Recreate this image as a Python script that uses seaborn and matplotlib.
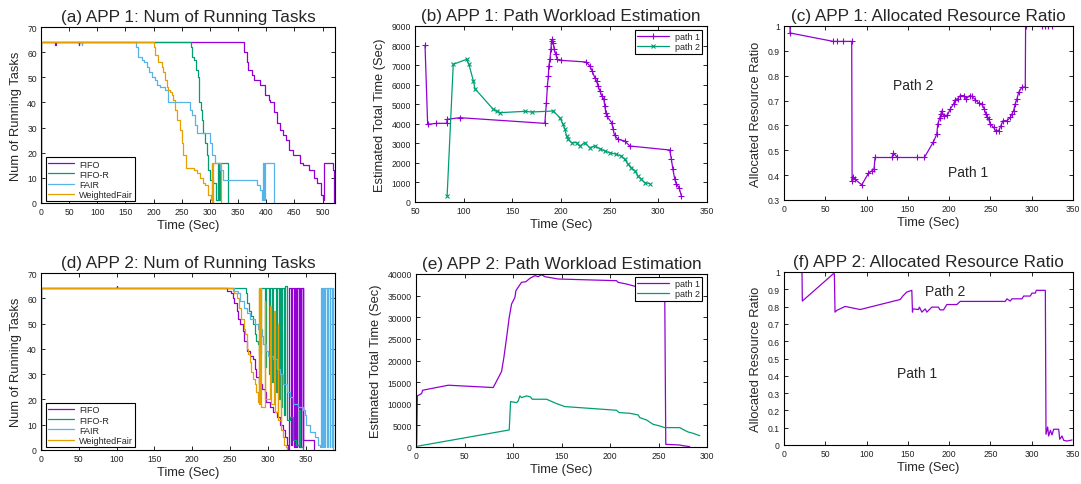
import numpy as np
import matplotlib
matplotlib.use("Agg")
import matplotlib.pyplot as plt
import seaborn as sns
from matplotlib.ticker import FormatStrFormatter, MultipleLocator

# ---------------- data ----------------
# (a) APP 1: running tasks
a_fifo_t = [0, 0.5, 25, 26, 67, 68, 361, 365, 368, 375, 378, 389, 398, 404, 406, 413, 419, 425, 429, 435,
            441, 448, 460, 466, 475, 484, 490, 497, 500, 502, 518, 521]
a_fifo_y = [0, 64, 63, 64, 63, 64, 60, 56, 53, 51, 49, 47, 43, 41, 40, 36, 32, 29, 27, 25,
            21, 19, 16, 15, 13, 10, 8, 3, 1, 16, 13, 0]
a_fifor_t = [0, 0.5, 266, 268, 272, 275, 278, 280, 281, 284, 285, 288, 291, 294, 297, 300, 306, 311, 315,
             316.5, 318, 332]
a_fifor_y = [0, 64, 62, 58, 57, 53, 50, 44, 40, 37, 33, 28, 24, 19, 13, 9, 8, 1, 16, 1, 16, 0]
a_fair_t = [0, 0.5, 72, 73, 169, 173, 179, 182, 188, 192, 197, 203, 206, 211, 220, 226, 265, 268, 274, 277,
            300, 303, 309, 318, 324, 383, 389, 393, 395, 396, 397, 413]
a_fair_y = [0, 64, 63, 64, 62, 58, 57, 56, 54, 52, 50, 49, 47, 46, 45, 40, 37, 35, 31, 28,
            24, 19, 16, 13, 9, 7, 5, 1, 16, 1, 16, 0]
a_wf_t = [0, 0.5, 201, 203, 208, 214, 217, 220, 223, 226, 229, 232, 235, 238, 241, 246, 250, 253, 258, 271,
          277, 283, 288, 291, 297, 301, 303, 304, 305, 320]
a_wf_y = [0, 64, 62, 59, 56, 54, 52, 49, 46, 45, 44, 43, 41, 37, 33, 29, 24, 19, 14, 13,
          12, 10, 8, 7, 3, 1, 16, 0, 16, 0]

# (d) APP 2: running tasks
d_fifo_t = [0, 0.5, 100, 101, 246, 252, 254, 256, 259, 261, 263, 267, 269, 272, 276, 281, 283, 285, 289, 292,
            296, 298, 303, 307, 312, 316, 320, 323, 325, 327, 328.5, 331, 332, 334.5, 336.5, 338, 339.2, 341,
            341.5, 343, 344, 346, 346.5, 347, 361.5]
d_fifo_y = [0, 64, 65, 64, 63, 62, 60, 58, 55, 52, 50, 47, 43, 39, 37, 36, 32, 29, 26, 24,
            23, 19, 17, 15, 13, 10, 8, 5, 2, 0, 64, 2, 64, 1, 64, 1, 64, 1,
            64, 1, 64, 1, 64, 4, 0]
d_fifor_t = [0, 0.5, 271, 273, 275, 278, 281, 283, 285, 287, 289, 291, 297, 298, 302, 303, 306, 307, 311, 312,
             315, 316, 318, 319, 322, 323, 325, 330, 334, 338, 342, 343, 347]
d_fifor_y = [0, 64, 62, 58, 55, 53, 50, 46, 43, 42, 38, 64, 33, 64, 30, 64, 27, 64, 23, 64,
             20, 64, 17, 64, 14, 65, 12, 13, 4, 2, 16, 1, 0]
d_fair_t = [0, 0.5, 256, 261, 263, 268, 272, 276, 283, 287, 292, 294, 298, 300, 307, 312, 316, 320, 325, 329,
            334, 340, 347, 349, 351, 356, 362, 367, 369, 370, 372, 373, 375, 376, 379, 380, 382, 383, 385, 386, 387]
d_fair_y = [0, 64, 63, 62, 59, 56, 54, 52, 50, 48, 45, 42, 39, 37, 36, 32, 30, 26, 23, 21,
            18, 17, 16, 14, 10, 7, 5, 2, 1, 64, 1, 64, 1, 64, 1, 64, 1, 64, 1, 64, 0]
d_wf_t = [0, 0.5, 254, 256, 259, 262, 265, 268, 270, 272, 274, 276, 278, 281, 283, 285, 287, 288, 289, 290,
          291, 296, 297, 303, 304, 308, 309, 313, 314, 317, 318, 320, 322, 324, 326]
d_wf_y = [0, 64, 63, 62, 60, 56, 52, 48, 46, 40, 38, 35, 31, 28, 26, 23, 19, 64, 18, 64,
          17, 59, 20, 57, 18, 55, 15, 50, 12, 30, 8, 5, 2, 1, 0]

# (b) APP 1: path workload estimation
b_p1_t = [60.3, 63, 72, 82.5, 83, 96, 183.4, 185, 186, 187, 187.5, 188.6, 189.6, 190.3, 191, 192, 193, 194.7,
          196, 199.8, 226, 229.6, 232, 234.7, 236.5, 238, 240, 242, 244, 245, 246, 247, 252, 253.6, 255, 258.7,
          265.5, 270.7, 311.7, 313.4, 315, 316.9, 318.6, 321.3, 323.7]
b_p1_y = [8011, 3971, 4022, 4022, 4227, 4312, 4022, 5079, 5931, 6443, 6954, 7295, 7806, 8232, 8317, 8147, 7806,
          7551, 7295, 7244, 7159, 6954, 6698, 6358, 6187, 5931, 5676, 5420, 5250, 4909, 4568, 4397, 4056, 3716,
          3409, 3204, 3119, 2863, 2659, 2182, 1670, 1159, 903, 733, 307]
b_p2_t = [83, 89.3, 103, 105.4, 110, 111.6, 130.4, 133.8, 137.2, 162.9, 169.7, 192, 198.8, 202.2, 204, 205.7,
          207.4, 210.8, 216, 219.3, 224.4, 229.6, 234.7, 240, 245, 250, 257, 262, 265.5, 269, 272.4, 276, 279,
          282.6, 286, 291]
b_p2_y = [307, 7039, 7295, 7039, 6187, 5795, 4738, 4653, 4568, 4636, 4602, 4653, 4312, 3971, 3716, 3375, 3204,
          3034, 3034, 2863, 3034, 2778, 2863, 2727, 2608, 2523, 2437, 2352, 2182, 1926, 1756, 1585, 1329, 1159,
          989, 937]

# (c) APP 1: allocated resource ratio
c_t = [7.3, 7.3, 59.8, 63.9, 72, 82, 82.5, 83.3, 86, 94.2, 102.3, 106.3, 109, 110.3, 130.6, 132.6, 137.4, 161,
       170, 181, 185, 186.3, 188.4, 190, 191.2, 193.2, 198, 201.3, 205.3, 207.4, 210.2, 213.4, 217.5, 220.7,
       224.7, 227.6, 231.6, 235.6, 239.7, 242.5, 244.5, 245.8, 247.8, 249.8, 253.8, 256.3, 260, 262.7, 265.2,
       270, 274, 276, 278, 280, 282.1, 284.2, 288.2, 292.2, 292.6, 312.4, 316, 320, 324.6]
c_r = [1.0, 0.972, 0.938, 0.938, 0.938, 0.938, 0.377, 0.394, 0.383, 0.361, 0.408, 0.417, 0.424, 0.471, 0.471,
       0.488, 0.471, 0.471, 0.471, 0.534, 0.565, 0.606, 0.628, 0.646, 0.659, 0.639, 0.642, 0.666, 0.686, 0.704,
       0.707, 0.720, 0.720, 0.707, 0.720, 0.717, 0.704, 0.690, 0.686, 0.666, 0.646, 0.632, 0.626, 0.606, 0.592,
       0.579, 0.579, 0.599, 0.619, 0.619, 0.632, 0.646, 0.659, 0.686, 0.707, 0.733, 0.754, 0.754, 1.0, 1.0,
       1.0, 1.0, 1.0]

# (e) APP 2: path workload estimation
e_p1_t = [0.7, 1.4, 5.8, 6.9, 33.3, 79.6, 88.2, 90.6, 93.4, 96.1, 98.5, 102, 103, 106.4, 108.8, 113.3, 117.4,
          122.6, 126, 129.4, 132.9, 146.6, 182.6, 206.7, 208.4, 217, 227.3, 244.4, 256.4, 257.5, 271.9, 275.3,
          282.2]
e_p1_y = [618, 11815, 12355, 13127, 14286, 13745, 17452, 20695, 25328, 29961, 33050, 34595, 36139, 37297, 38069,
          38224, 38996, 39614, 39382, 39845, 39382, 38842, 38610, 38456, 38069, 37683, 37066, 36525, 36293, 618,
          463, 309, 77]
e_p2_t = [0.7, 96.1, 97.5, 103.7, 105.4, 107.1, 108.8, 114, 118, 119.8, 134.6, 144.9, 153.4, 182.6, 206.7,
          209.4, 220.4, 229, 230.7, 237.6, 244.4, 251.3, 256.4, 271.9, 277, 280.5, 285.6, 292.5]
e_p2_y = [154, 3938, 10502, 10270, 10656, 11815, 11429, 11815, 11583, 11042, 11042, 10039, 9344, 8880, 8494,
          7954, 7799, 7413, 6795, 6255, 5251, 4865, 4479, 4479, 3861, 3475, 3166, 2625]

# (f) APP 2: allocated resource ratio
f_t = [21.8, 22.2, 59.8, 61, 61.8, 63.9, 74, 92.2, 140.7, 143.9, 148.7, 154.8, 155.6, 156, 162.9, 164, 167,
       171, 173, 179, 187, 189, 193.2, 197.2, 209.4, 213.4, 268, 270, 274, 276, 288.2, 290.2, 298.3, 300.3,
       304.4, 305.6, 316.5, 317.3, 319.3, 320.5, 322.6, 324.6, 326.6, 332.7, 333.9, 336.7, 338.7, 342.8, 348.8]
f_r = [1.0, 0.832, 0.990, 0.990, 0.768, 0.778, 0.801, 0.783, 0.841, 0.861, 0.884, 0.894, 0.768, 0.787, 0.783,
       0.797, 0.768, 0.787, 0.768, 0.797, 0.797, 0.781, 0.781, 0.812, 0.812, 0.830, 0.830, 0.845, 0.832, 0.845,
       0.845, 0.861, 0.861, 0.878, 0.878, 0.894, 0.894, 0.062, 0.104, 0.052, 0.085, 0.058, 0.091, 0.091, 0.033,
       0.052, 0.027, 0.023, 0.029]

task_labels = ["FIFO", "FIFO-R", "FAIR", "WeightedFair"]
path_labels = ["path 1", "path 2"]
titles = ["(a) APP 1: Num of Running Tasks", "(b) APP 1: Path Workload Estimation",
          "(c) APP 1: Allocated Resource Ratio", "(d) APP 2: Num of Running Tasks",
          "(e) APP 2: Path Workload Estimation", "(f) APP 2: Allocated Resource Ratio"]

# ---------------- style ----------------
sns.set_theme(style="ticks")
plt.rcParams["font.family"] = ["Liberation Sans", "DejaVu Sans"]
plt.rcParams["axes.linewidth"] = 0.8
plt.rcParams["axes.edgecolor"] = "black"

PURPLE, GREEN, CYAN, ORANGE = "#9400D3", "#009E73", "#56B4E9", "#E69F00"
colors4 = [PURPLE, GREEN, CYAN, ORANGE]
LW = 0.9

fig = plt.figure(figsize=(10.81, 4.85), dpi=100)
H, W = 485.0, 1081.0


def mk(l, r, t, b):
    return fig.add_axes([l / W, (H - b) / H, (r - l) / W, (b - t) / H])


axs = [mk(41, 335, 28, 204), mk(415, 707, 27, 203), mk(784, 1073, 27, 201),
       mk(41, 335, 274, 451), mk(416, 707, 275, 448), mk(784, 1073, 273, 446)]


def style(ax, title, ylabel):
    ax.set_title(title, fontsize=12.3, pad=4)
    ax.set_xlabel("Time (Sec)", fontsize=9.3, labelpad=2)
    ax.set_ylabel(ylabel, fontsize=9.3, labelpad=4)
    ax.tick_params(direction="in", length=3, width=0.6, labelsize=6.2, top=True, right=True,
                   pad=3, colors="black", labelcolor="#222222")
    for s in ax.spines.values():
        s.set_visible(True)
        s.set_linewidth(0.8)


def leg(ax, loc, anchor, fs=6.5, hl=2.8):
    lg = ax.legend(loc=loc, bbox_to_anchor=anchor, fontsize=fs, frameon=True, fancybox=False,
                   handlelength=hl, handletextpad=0.6, borderpad=0.25, labelspacing=0.12,
                   borderaxespad=0.0)
    lg.get_frame().set_edgecolor("black")
    lg.get_frame().set_linewidth(0.8)
    lg.get_frame().set_alpha(1.0)


def steps(ax, ts, ys):
    for t, y, c, lab in zip(ts, ys, colors4, task_labels):
        sns.lineplot(x=np.array(t, float), y=np.array(y, float), ax=ax, color=c, lw=LW,
                     drawstyle="steps-post", estimator=None, sort=False, label=lab)


# (a)
ax = axs[0]
steps(ax, [a_fifo_t, a_fifor_t, a_fair_t, a_wf_t], [a_fifo_y, a_fifor_y, a_fair_y, a_wf_y])
ax.set_xlim(0, 522); ax.set_ylim(0, 70)
ax.xaxis.set_major_locator(MultipleLocator(50)); ax.yaxis.set_major_locator(MultipleLocator(10))
style(ax, titles[0], "Num of Running Tasks")
leg(ax, "lower left", (0.017, 0.011))

# (d)
ax = axs[3]
steps(ax, [d_fifo_t, d_fifor_t, d_fair_t, d_wf_t], [d_fifo_y, d_fifor_y, d_fair_y, d_wf_y])
ax.set_xlim(0, 389); ax.set_ylim(0, 70)
ax.xaxis.set_major_locator(MultipleLocator(50)); ax.yaxis.set_major_locator(MultipleLocator(10))
style(ax, titles[3], "Num of Running Tasks")
leg(ax, "lower left", (0.017, 0.017))

# (b)
ax = axs[1]
sns.lineplot(x=b_p1_t, y=b_p1_y, ax=ax, color=PURPLE, lw=LW, marker="+", markersize=4.5,
             markeredgewidth=0.8, markeredgecolor=PURPLE, estimator=None, sort=False, label=path_labels[0])
sns.lineplot(x=b_p2_t, y=b_p2_y, ax=ax, color=GREEN, lw=LW, marker="x", markersize=3.5,
             markeredgewidth=0.8, markeredgecolor=GREEN, estimator=None, sort=False, label=path_labels[1])
ax.set_xlim(50, 350); ax.set_ylim(0, 9000)
ax.xaxis.set_major_locator(MultipleLocator(50)); ax.yaxis.set_major_locator(MultipleLocator(1000))
style(ax, titles[1], "Estimated Total Time (Sec)")
leg(ax, "upper right", (0.983, 0.977), hl=3.6)

# (e)
ax = axs[4]
sns.lineplot(x=e_p1_t, y=e_p1_y, ax=ax, color=PURPLE, lw=LW, estimator=None, sort=False, label=path_labels[0])
sns.lineplot(x=e_p2_t, y=e_p2_y, ax=ax, color=GREEN, lw=LW, estimator=None, sort=False, label=path_labels[1])
ax.set_xlim(0, 300); ax.set_ylim(0, 40000)
ax.xaxis.set_major_locator(MultipleLocator(50)); ax.yaxis.set_major_locator(MultipleLocator(5000))
style(ax, titles[4], "Estimated Total Time (Sec)")
leg(ax, "upper right", (0.983, 0.983), hl=3.6)

# (c)
ax = axs[2]
sns.lineplot(x=c_t, y=c_r, ax=ax, color=PURPLE, lw=LW, marker="+", markersize=4.5, markeredgewidth=0.8,
             markeredgecolor=PURPLE, estimator=None, sort=False)
ax.set_xlim(0, 350); ax.set_ylim(0.3, 1.0)
ax.xaxis.set_major_locator(MultipleLocator(50)); ax.yaxis.set_major_locator(MultipleLocator(0.1))
ax.yaxis.set_major_formatter(FormatStrFormatter("%g"))
style(ax, titles[2], "Allocated Resource Ratio")
ax.text(157, 0.763, "Path 2", fontsize=10, ha="center", va="center")
ax.text(223, 0.413, "Path 1", fontsize=10, ha="center", va="center")

# (f)
ax = axs[5]
sns.lineplot(x=f_t, y=f_r, ax=ax, color=PURPLE, lw=LW, estimator=None, sort=False)
ax.set_xlim(0, 350); ax.set_ylim(0, 1.0)
ax.xaxis.set_major_locator(MultipleLocator(50)); ax.yaxis.set_major_locator(MultipleLocator(0.1))
ax.yaxis.set_major_formatter(FormatStrFormatter("%g"))
style(ax, titles[5], "Allocated Resource Ratio")
ax.text(195, 0.89, "Path 2", fontsize=10, ha="center", va="center")
ax.text(161, 0.416, "Path 1", fontsize=10, ha="center", va="center")

fig.savefig("out.png", dpi=100)
